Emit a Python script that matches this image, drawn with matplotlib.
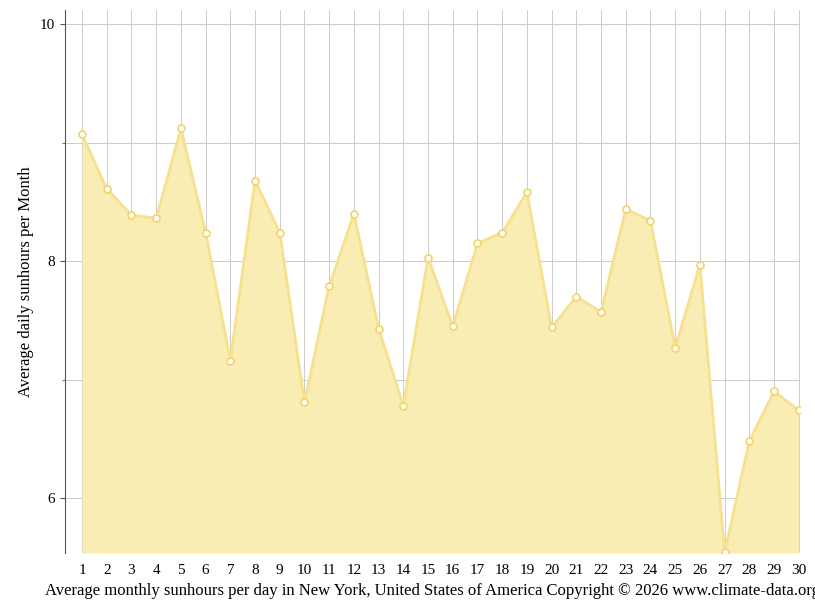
import matplotlib.pyplot as plt
from matplotlib.ticker import MultipleLocator

plt.rcParams['font.family'] = ['Liberation Serif', 'DejaVu Serif']

days = list(range(1, 31))
sunhours = [9.07, 8.61, 8.39, 8.36, 9.12, 8.24, 7.16, 8.68, 8.24, 6.81,
            7.79, 8.40, 7.43, 6.78, 8.03, 7.45, 8.15, 8.24, 8.58, 7.44,
            7.70, 7.57, 8.44, 8.34, 7.27, 7.97, 5.54, 6.48, 6.90, 6.74]

fig = plt.figure(figsize=(8.15, 6.11), dpi=100)
ax = fig.add_axes([65/815, 58/611, 735/815, 543/611])

ymin = 5.535
ax.fill_between(days, sunhours, ymin, color='#faedb3', lw=0)
ax.plot(days, sunhours, color='#f7e08e', lw=2, marker='o', ms=5,
        mfc='white', mec='#f3d36a', mew=1.2)

ax.set_xlim(0.31, 30.05)
ax.set_ylim(ymin, 10.12)
ax.set_xticks(days)
ax.yaxis.set_major_locator(MultipleLocator(2))
ax.yaxis.set_minor_locator(MultipleLocator(1))
ax.grid(True, which='both', color='#cccccc', lw=0.7)
ax.set_axisbelow(True)
for s in ['top', 'right', 'bottom']:
    ax.spines[s].set_visible(False)
ax.spines['left'].set_color('#555555')
ax.tick_params(axis='x', length=0, labelsize=11, pad=8)
ax.tick_params(axis='y', which='both', labelsize=11, color='#555555')
ax.set_ylabel('Average daily sunhours per Month', fontsize=12)
ax.set_xlabel('Average monthly sunhours per day in New York, United States of America '
              'Copyright \u00a9 2026 www.climate-data.org', fontsize=12, labelpad=4)

fig.savefig('out.png')
